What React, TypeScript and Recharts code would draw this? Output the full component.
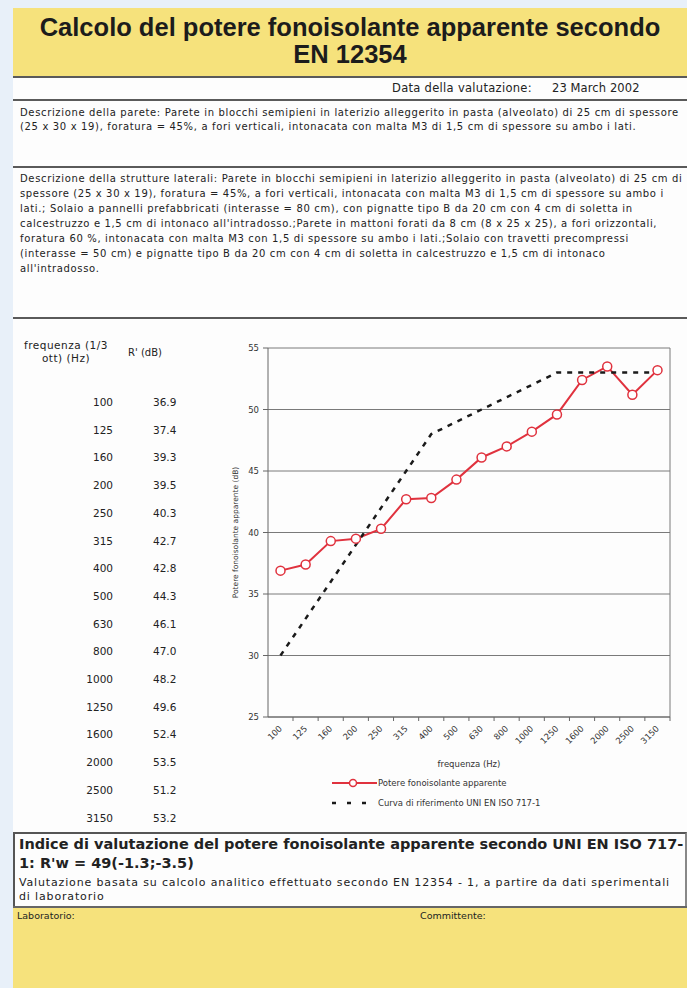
import React from 'react';
import { LineChart, Line, XAxis, YAxis, CartesianGrid, Legend } from 'recharts';

// frequenze in terzi d'ottava (Hz)
const frequencies = ['100', '125', '160', '200', '250', '315', '400', '500', '630', '800', '1000', '1250', '1600', '2000', '2500', '3150'];
// potere fonoisolante apparente R' (dB)
const measured = [36.9, 37.4, 39.3, 39.5, 40.3, 42.7, 42.8, 44.3, 46.1, 47.0, 48.2, 49.6, 52.4, 53.5, 51.2, 53.2];
// curva di riferimento UNI EN ISO 717-1 traslata
const reference = [30, 33, 36, 39, 42, 45, 48, 49, 50, 51, 52, 53, 53, 53, 53, 53];
const yTicks = [25, 30, 35, 40, 45, 50, 55];

const data = frequencies.map((f, i) => ({ freq: f, measured: measured[i], reference: reference[i] }));

const desc1 = [
  'Descrizione della parete: Parete in blocchi semipieni in laterizio alleggerito in pasta (alveolato) di 25 cm di spessore',
  '(25 x 30 x 19), foratura = 45%, a fori verticali, intonacata con malta M3 di 1,5 cm di spessore su ambo i lati.',
];
const desc2 = [
  'Descrizione della strutture laterali: Parete in blocchi semipieni in laterizio alleggerito in pasta (alveolato) di 25 cm di',
  'spessore (25 x 30 x 19), foratura = 45%, a fori verticali, intonacata con malta M3 di 1,5 cm di spessore su ambo i',
  'lati.; Solaio a pannelli prefabbricati (interasse = 80 cm), con pignatte tipo B da 20 cm con 4 cm di soletta in',
  'calcestruzzo e 1,5 cm di intonaco all\'intradosso.;Parete in mattoni forati da 8 cm (8 x 25 x 25), a fori orizzontali,',
  'foratura 60 %, intonacata con malta M3 con 1,5 di spessore su ambo i lati.;Solaio con travetti precompressi',
  '(interasse = 50 cm) e pignatte tipo B da 20 cm con 4 cm di soletta in calcestruzzo e 1,5 cm di intonaco',
  'all\'intradosso.',
];

const RED = '#e0323e';
const TITLE_FONT = 'Arial, "Liberation Sans", sans-serif';
const FONT = '"DejaVu Sans", Verdana, sans-serif';

const FreqTick = (props: any) => {
  const { x, y, payload } = props;
  return (
    <g transform={`translate(${x},${y})`}>
      <line x1={12.5} x2={12.5} y1={-6} y2={-2} stroke="#666" />
      <text
        transform="translate(0,4) rotate(-45)"
        textAnchor="end"
        dominantBaseline="central"
        fontSize={8.5}
        fill="#333"
        fontFamily={FONT}
      >
        {payload.value}
      </text>
    </g>
  );
};

const YLabel = (props: any) => {
  const { x, y, height } = props.viewBox;
  const cx = x + 35;
  const cy = y + height / 2;
  return (
    <text x={cx} y={cy} transform={`rotate(-90 ${cx} ${cy})`} textAnchor="middle" dominantBaseline="central" fontSize={7.5} fill="#333" fontFamily={FONT}>
      Potere fonoisolante apparente (dB)
    </text>
  );
};

const LegendBox = () => (
  <div style={{ fontFamily: FONT, fontSize: 8.5, color: '#333', lineHeight: '20px', whiteSpace: 'nowrap' }}>
    <div style={{ display: 'flex', alignItems: 'center' }}>
      <svg width={45} height={10}>
        <line x1={0} x2={45} y1={5} y2={5} stroke={RED} strokeWidth={2} />
        <circle cx={21} cy={5} r={3.5} fill="#fff" stroke={RED} strokeWidth={1.5} />
      </svg>
      <span style={{ marginLeft: 1 }}>Potere fonoisolante apparente</span>
    </div>
    <div style={{ display: 'flex', alignItems: 'center' }}>
      <svg width={45} height={10}>
        <line x1={0} x2={42} y1={5} y2={5} stroke="#1a1a1a" strokeWidth={2.5} strokeDasharray="4 11" />
      </svg>
      <span style={{ marginLeft: 1 }}>Curva di riferimento UNI EN ISO 717-1</span>
    </div>
  </div>
);

const Rule = ({ top }: { top: number }) => (
  <div style={{ position: 'absolute', left: 13, top, width: 674, height: 2, background: '#5a5a5a' }} />
);

export default function App() {
  return (
    <div style={{ position: 'absolute', left: 0, top: 0, width: 687, height: 988, background: '#e8f0f9', overflow: 'hidden', fontFamily: FONT, color: '#222' }}>
      {/* intestazione */}
      <div style={{ position: 'absolute', left: 13, top: 8, width: 674, height: 68, background: '#f6e27c' }}>
        <div style={{ position: 'absolute', left: 0, top: 6, width: 674, textAlign: 'center', fontFamily: TITLE_FONT, fontSize: 25.5, fontWeight: 'bold', lineHeight: '27px', color: '#1c1c1c' }}>
          Calcolo del potere fonoisolante apparente secondo
          <br />
          EN 12354
        </div>
      </div>
      <div style={{ position: 'absolute', left: 13, top: 76, width: 674, height: 830, background: '#fdfdfd' }} />
      <Rule top={76} />

      <div style={{ position: 'absolute', left: 392, top: 81, fontSize: 11.5, whiteSpace: 'nowrap', letterSpacing: 0.3 }}>Data della valutazione:</div>
      <div style={{ position: 'absolute', left: 552, top: 81, fontSize: 11.5, whiteSpace: 'nowrap', letterSpacing: 0.1 }}>23 March 2002</div>
      <Rule top={99} />

      <div style={{ position: 'absolute', left: 20, top: 106, fontSize: 10, lineHeight: '13.5px', whiteSpace: 'nowrap', letterSpacing: 0.65 }}>
        {desc1.map((l, i) => <div key={i}>{l}</div>)}
      </div>
      <Rule top={166} />

      <div style={{ position: 'absolute', left: 20, top: 171, fontSize: 10, lineHeight: '15px', whiteSpace: 'nowrap', letterSpacing: 0.65 }}>
        {desc2.map((l, i) => <div key={i}>{l}</div>)}
      </div>
      <Rule top={317} />

      {/* tabella valori */}
      <div style={{ position: 'absolute', left: 12, top: 339, width: 108, textAlign: 'center', fontSize: 10.5, lineHeight: '13px', whiteSpace: 'nowrap', letterSpacing: 0.5 }}>
        frequenza (1/3
        <br />
        ott) (Hz)
      </div>
      <div style={{ position: 'absolute', left: 128, top: 347, fontSize: 10 }}>R' (dB)</div>
      {frequencies.map((f, i) => (
        <React.Fragment key={f}>
          <div style={{ position: 'absolute', left: 50, width: 63, textAlign: 'right', top: 396 + i * 27.7, fontSize: 10.5 }}>{f}</div>
          <div style={{ position: 'absolute', left: 153, top: 396 + i * 27.7, fontSize: 10.5 }}>{measured[i].toFixed(1)}</div>
        </React.Fragment>
      ))}

      {/* grafico */}
      <div style={{ position: 'absolute', left: 200, top: 330 }}>
        <LineChart width={487} height={490} data={data} margin={{ top: 18, right: 17, bottom: 53, left: 0 }}>
          <CartesianGrid
            stroke="#7a7a7a"
            horizontal
            vertical
            verticalCoordinatesGenerator={({ offset }: any) => [offset.left + offset.width]}
          />
          <XAxis
            dataKey="freq"
            type="category"
            padding={{ left: 12.5, right: 12.5 }}
            height={50}
            tickSize={4}
            tickMargin={2}
            tickLine={false}
            axisLine={{ stroke: '#666' }}
            interval={0}
            tick={<FreqTick />}
            label={{ value: 'frequenza (Hz)', position: 'insideBottom', offset: 0, fontSize: 8.5, fill: '#333', fontFamily: FONT }}
          />
          <YAxis
            domain={[25, 55]}
            ticks={yTicks}
            width={68}
            tickSize={5}
            tickMargin={4}
            tickLine={{ stroke: '#666' }}
            axisLine={{ stroke: '#666' }}
            tick={{ fontSize: 8.5, fill: '#333', fontFamily: FONT }}
            label={<YLabel />}
          />
          <Line
            dataKey="measured"
            type="linear"
            stroke={RED}
            strokeWidth={2}
            dot={{ r: 4.5, fill: '#fff', stroke: RED, strokeWidth: 1.5 }}
            isAnimationActive={false}
          />
          <Line
            dataKey="reference"
            type="linear"
            stroke="#1a1a1a"
            strokeWidth={2.5}
            strokeDasharray="5 6"
            dot={false}
            isAnimationActive={false}
          />
          <Legend
            layout="vertical"
            align="center"
            verticalAlign="middle"
            content={<LegendBox />}
            wrapperStyle={{ top: 443, left: 132, width: 260 }}
          />
        </LineChart>
      </div>

      {/* indice di valutazione */}
      <div style={{ position: 'absolute', left: 13, top: 832, width: 670, height: 72, border: '2px solid #555', borderRight: '2px solid #888', background: '#fdfdfd' }}>
        <div style={{ position: 'absolute', left: 4, top: 1, fontSize: 14.5, fontWeight: 'bold', lineHeight: '19px', whiteSpace: 'nowrap' }}>
          Indice di valutazione del potere fonoisolante apparente secondo UNI EN ISO 717-
          <br />
          1: R'w = 49(-1.3;-3.5)
        </div>
        <div style={{ position: 'absolute', left: 4, top: 42, fontSize: 11, lineHeight: '14px', whiteSpace: 'nowrap', letterSpacing: 0.85 }}>
          Valutazione basata su calcolo analitico effettuato secondo EN 12354 - 1, a partire da dati sperimentali
          <br />
          di laboratorio
        </div>
      </div>

      {/* piede */}
      <div style={{ position: 'absolute', left: 13, top: 906, width: 674, height: 82, background: '#f6e27c', borderTop: '2px solid #666' }}>
        <div style={{ position: 'absolute', left: 4, top: 2, fontSize: 9.5 }}>Laboratorio:</div>
        <div style={{ position: 'absolute', left: 407, top: 2, fontSize: 9.5 }}>Committente:</div>
      </div>
    </div>
  );
}
